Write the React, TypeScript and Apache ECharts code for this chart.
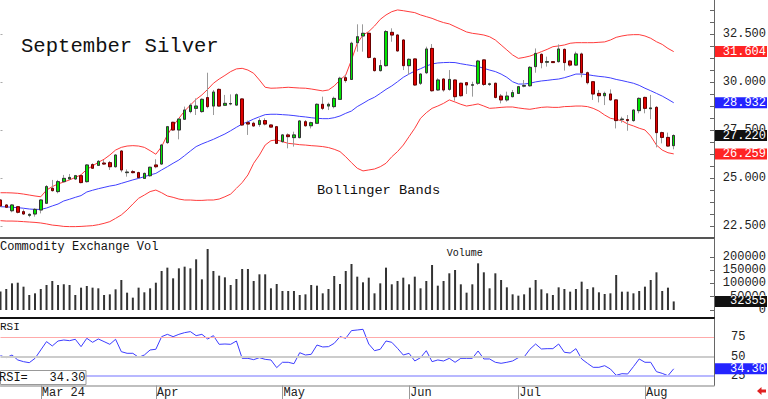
import React, { useEffect, useRef } from 'react';
import * as echarts from 'echarts';

const MONO = '"Liberation Mono", "DejaVu Sans Mono", monospace';

// x categories: trading days (Feb 21 2024 .. Aug 8 2024) plus empty slots on the right
const monthLabels = ['Mar 24', 'Apr', 'May', 'Jun', 'Jul', 'Aug'];
const monthStartIndex = [7, 27, 49, 71, 90, 112];
const emptySlotsAfter = 7;

const opens = [
  23.85, 23.59, 23.29, 23.50, 23.24, 23.05, 23.12, 23.33, 23.68, 24.46,
  24.29, 24.81, 24.95, 24.95, 25.12, 24.81, 25.70, 25.66, 25.78, 25.80,
  25.59, 26.41, 25.28, 25.33, 25.28, 24.98, 25.12, 25.68, 25.73, 26.85,
  27.91, 27.51, 28.07, 28.47, 28.64, 28.47, 29.20, 28.76, 29.63, 28.80,
  28.87, 28.81, 29.13, 27.89, 27.86, 27.80, 28.00, 27.77, 27.68, 26.90,
  27.25, 27.11, 27.11, 27.94, 27.73, 27.86, 28.85, 28.76, 28.73, 29.11,
  30.24, 30.15, 32.07, 32.42, 32.56, 31.25, 30.61, 30.87, 32.61, 32.47,
  32.21, 30.87, 31.22, 29.95, 30.50, 31.77, 29.60, 30.17, 29.63, 30.12,
  29.95, 29.98, 29.85, 29.95, 31.17, 29.89, 29.95, 29.28, 29.08, 29.25,
  29.42, 29.80, 29.82, 30.82, 31.46, 31.05, 31.08, 31.08, 31.72, 31.11,
  30.90, 31.48, 30.50, 30.03, 29.42, 29.30, 29.39, 29.08, 28.05, 28.05,
  28.00, 28.52, 29.21, 28.62, 28.69, 27.37, 27.12, 26.69,
];
const closes = [
  23.54, 23.47, 23.59, 23.21, 23.12, 23.10, 23.36, 23.85, 24.55, 24.34,
  24.81, 24.98, 25.03, 25.12, 24.76, 25.68, 25.51, 25.87, 25.73, 25.59,
  26.20, 25.42, 25.31, 25.28, 25.02, 25.24, 25.56, 25.59, 26.72, 27.68,
  27.51, 28.08, 28.55, 28.80, 28.76, 29.11, 28.73, 29.49, 28.76, 28.90,
  28.89, 29.35, 27.77, 27.82, 27.72, 28.00, 27.82, 27.66, 26.81, 27.25,
  27.16, 27.25, 27.98, 27.73, 27.89, 28.85, 28.64, 28.85, 29.16, 30.21,
  30.09, 32.04, 32.38, 32.56, 31.30, 30.61, 30.87, 32.65, 32.47, 31.64,
  30.87, 31.20, 29.86, 30.43, 31.74, 29.56, 30.12, 29.60, 30.15, 29.25,
  29.30, 29.86, 29.87, 31.11, 29.89, 29.92, 29.21, 29.08, 29.28, 29.46,
  29.77, 29.83, 30.78, 31.51, 31.03, 31.08, 31.03, 31.74, 31.03, 30.90,
  31.48, 30.50, 29.98, 29.39, 29.30, 29.42, 29.08, 28.00, 28.08, 28.00,
  28.55, 29.16, 28.64, 28.66, 27.37, 27.12, 26.67, 27.22,
];
const lows = [
  23.50, 23.43, 23.21, 23.15, 23.07, 22.95, 22.98, 23.15, 23.64, 24.29,
  24.20, 24.76, 24.90, 24.90, 24.72, 24.76, 25.47, 25.63, 25.68, 25.42,
  25.54, 25.30, 25.07, 25.24, 24.98, 24.95, 25.07, 25.51, 25.68, 26.78,
  27.47, 27.02, 28.03, 28.38, 28.29, 28.41, 28.64, 28.29, 28.73, 28.76,
  28.80, 28.76, 27.72, 27.25, 27.68, 27.68, 27.75, 27.63, 26.78, 26.85,
  26.55, 26.64, 27.07, 27.68, 27.59, 27.82, 28.55, 28.55, 28.64, 29.08,
  29.98, 30.12, 31.60, 31.60, 31.25, 30.56, 30.56, 30.82, 32.12, 31.60,
  30.64, 30.38, 29.81, 29.86, 30.43, 29.51, 29.56, 29.51, 29.56, 29.04,
  29.25, 29.39, 29.25, 29.86, 29.81, 29.81, 29.16, 28.90, 28.99, 29.21,
  29.39, 29.74, 29.77, 30.50, 30.73, 30.82, 31.01, 31.03, 30.61, 30.82,
  30.87, 30.26, 29.89, 29.08, 28.95, 28.81, 29.04, 27.59, 27.89, 27.47,
  27.94, 28.38, 28.38, 28.07, 26.60, 26.81, 26.64, 26.50,
];
const highs = [
  23.89, 23.64, 23.64, 23.54, 23.36, 23.15, 23.42, 23.89, 24.63, 24.90,
  24.90, 25.16, 25.21, 25.16, 25.16, 25.73, 25.77, 25.94, 25.94, 25.89,
  26.24, 26.46, 25.45, 25.42, 25.33, 25.28, 25.59, 25.98, 26.78, 27.72,
  27.94, 28.12, 28.73, 28.90, 29.16, 29.16, 30.50, 29.60, 29.68, 29.34,
  29.37, 29.42, 29.16, 28.00, 27.94, 28.12, 28.12, 27.80, 27.72, 27.30,
  27.33, 27.42, 28.03, 28.03, 27.94, 28.90, 29.25, 28.94, 29.25, 30.29,
  30.38, 32.12, 33.03, 33.03, 32.59, 31.30, 31.17, 32.73, 32.82, 32.52,
  32.26, 31.25, 31.25, 30.47, 31.86, 32.00, 30.21, 30.21, 30.64, 30.15,
  29.98, 29.98, 30.03, 31.17, 31.20, 29.98, 29.98, 29.39, 29.51, 29.60,
  29.81, 30.12, 30.85, 31.77, 31.51, 31.34, 31.10, 31.98, 31.77, 31.17,
  31.60, 31.55, 30.56, 30.07, 29.60, 29.51, 29.63, 29.11, 28.20, 28.29,
  28.59, 29.21, 29.25, 29.34, 28.76, 27.42, 27.37, 27.28,
];

const upperBand = [
  24.23, 24.23, 24.22, 24.20, 24.16, 24.11, 24.06, 24.02, 24.37, 24.55,
  24.69, 24.79, 24.90, 25.03, 25.17, 25.45, 25.63, 25.82, 25.98, 26.20,
  26.46, 26.60, 26.67, 26.69, 26.67, 26.60, 26.43, 26.24, 26.64, 27.25,
  27.72, 28.12, 28.50, 28.81, 29.11, 29.34, 29.63, 29.95, 30.17, 30.36,
  30.56, 30.70, 30.73, 30.64, 30.47, 30.12, 29.74, 29.69, 29.70, 29.72,
  29.74, 29.72, 29.70, 29.69, 29.65, 29.60, 29.55, 29.60, 29.81, 30.12,
  30.38, 31.17, 32.04, 32.47, 32.65, 32.94, 33.29, 33.52, 33.69, 33.78,
  33.74, 33.69, 33.64, 33.52, 33.43, 33.34, 33.22, 33.12, 33.05, 32.91,
  32.77, 32.63, 32.56, 32.52, 32.47, 32.38, 32.21, 31.95, 31.69, 31.43,
  31.25, 31.30, 31.37, 31.48, 31.60, 31.72, 31.86, 31.90, 31.95, 32.04,
  32.07, 32.07, 32.07, 32.07, 32.09, 32.11, 32.21, 32.35, 32.42, 32.47,
  32.49, 32.49, 32.42, 32.30, 32.12, 31.98, 31.77, 31.604,
];
const middleBand = [
  23.50, 23.49, 23.47, 23.45, 23.42, 23.38, 23.36, 23.36, 23.43, 23.54,
  23.64, 23.80, 23.89, 23.99, 24.08, 24.27, 24.36, 24.44, 24.51, 24.58,
  24.63, 24.72, 24.81, 24.90, 24.98, 25.07, 25.16, 25.24, 25.42, 25.59,
  25.77, 25.94, 26.17, 26.41, 26.64, 26.78, 26.90, 27.02, 27.16, 27.30,
  27.47, 27.65, 27.82, 27.94, 28.08, 28.20, 28.31, 28.33, 28.33, 28.31,
  28.29, 28.26, 28.22, 28.19, 28.15, 28.12, 28.10, 28.10, 28.15, 28.24,
  28.38, 28.50, 28.73, 28.90, 29.08, 29.22, 29.42, 29.63, 29.81, 30.03,
  30.26, 30.43, 30.59, 30.71, 30.85, 30.96, 31.01, 31.03, 31.04, 31.03,
  30.97, 30.92, 30.87, 30.82, 30.73, 30.64, 30.56, 30.43, 30.26, 30.03,
  29.91, 29.91, 29.95, 30.02, 30.07, 30.10, 30.14, 30.17, 30.24, 30.33,
  30.43, 30.43, 30.40, 30.35, 30.31, 30.28, 30.23, 30.15, 30.09, 30.02,
  29.95, 29.84, 29.69, 29.56, 29.42, 29.28, 29.11, 28.932,
];
const lowerBand = [
  22.77, 22.75, 22.75, 22.74, 22.72, 22.70, 22.68, 22.65, 22.60, 22.54,
  22.51, 22.47, 22.46, 22.46, 22.47, 22.49, 22.51, 22.56, 22.63, 22.72,
  22.89, 23.07, 23.33, 23.64, 23.94, 24.11, 24.29, 24.37, 24.23, 24.06,
  23.99, 23.90, 23.85, 23.85, 23.83, 23.83, 23.85, 23.85, 23.90, 24.02,
  24.16, 24.46, 24.76, 25.16, 25.77, 26.20, 26.72, 26.95, 26.99, 26.90,
  26.81, 26.78, 26.74, 26.72, 26.69, 26.67, 26.64, 26.59, 26.50, 26.38,
  26.11, 25.80, 25.51, 25.37, 25.42, 25.47, 25.59, 25.77, 26.11, 26.38,
  26.72, 27.16, 27.60, 28.12, 28.41, 28.64, 28.76, 28.90, 29.08, 28.97,
  28.85, 28.76, 28.81, 28.87, 28.76, 28.64, 28.66, 28.69, 28.71, 28.71,
  28.66, 28.62, 28.59, 28.64, 28.69, 28.71, 28.69, 28.69, 28.73, 28.74,
  28.76, 28.76, 28.73, 28.64, 28.50, 28.29, 28.12, 28.06, 27.99, 27.82,
  27.72, 27.60, 27.51, 27.19, 26.72, 26.46, 26.32, 26.259,
];

const volumes = [
  70000, 79300, 100600, 103000, 88000, 56600, 62900, 79300, 94400, 109400,
  94400, 96900, 94400, 56600, 84300, 90600, 84300, 81800, 56600, 59100,
  78000, 113200, 65400, 46600, 84300, 66700, 81800, 103000, 147200, 159800,
  119500, 157200, 163500, 157200, 191200, 115700, 230200, 147200, 129600, 123300,
  94400, 117000, 154700, 154700, 109400, 134600, 134600, 81800, 98100, 71700,
  71700, 71700, 56600, 59100, 94400, 91900, 62900, 79300, 128300, 98100,
  147200, 173600, 125800, 104400, 122000, 62900, 100600, 159800, 96900, 109400,
  122000, 96900, 125800, 81800, 109400, 169800, 91800, 109400, 138400, 151000,
  96900, 65400, 96900, 176100, 142200, 81800, 138400, 113200, 85500, 59100,
  54100, 59100, 84300, 113200, 78000, 62900, 56600, 85500, 79300, 69200,
  79300, 106900, 79300, 85500, 66700, 60400, 62900, 132100, 69200, 69200,
  62900, 71700, 88100, 113200, 142200, 71700, 84300, 32355,
];

const rsiValues = [
  51.3, 48.7, 52.1, 45.7, 43.5, 42.2, 47.8, 58.6, 69.4, 63.8,
  70.2, 71.5, 70.6, 72.4, 62.9, 73.7, 68.5, 72.8, 69.4, 65.9,
  72.4, 56.4, 54.3, 54.3, 49.1, 52.1, 58.6, 59.5, 75.8, 78.8,
  75.8, 78.8, 81.0, 82.3, 77.1, 78.8, 72.8, 77.1, 65.9, 66.3,
  65.9, 70.2, 47.8, 47.8, 46.1, 48.7, 46.5, 45.7, 35.8, 42.7,
  42.7, 40.9, 55.1, 52.1, 53.0, 65.0, 62.5, 62.9, 67.2, 75.8,
  73.7, 83.6, 84.4, 85.3, 66.3, 57.7, 59.5, 70.2, 68.5, 60.7,
  52.1, 54.3, 44.4, 48.7, 57.7, 43.5, 45.7, 44.4, 47.8, 42.7,
  47.8, 47.8, 47.8, 57.3, 47.0, 47.0, 42.7, 41.4, 42.7, 44.4,
  48.7, 49.5, 59.5, 66.3, 59.9, 60.3, 60.3, 66.3, 55.6, 54.7,
  60.3, 47.0, 41.4, 36.2, 36.2, 38.3, 34.0, 25.9, 28.0, 27.6,
  37.1, 47.0, 42.7, 42.7, 30.6, 28.4, 25.4, 34.30,
];

const priceTicks = [22.5, 25, 27.5, 30, 32.5];
const priceMinorTicks = [
  22.5, 23.125, 23.75, 24.375, 25, 25.625, 26.25, 26.875, 27.5, 28.125,
  28.75, 29.375, 30, 30.625, 31.25, 31.875, 32.5, 33.125, 33.75,
];
const volumeTicks = [0, 50000, 100000, 150000, 200000];
const rsiTicks = [25, 50, 75];
const rsiLevels = [75, 50, 25];

export default function App() {
  const ref = useRef<HTMLDivElement>(null);

  useEffect(() => {
    document.body.style.margin = '0';
    const el = ref.current as HTMLDivElement;
    const chart = echarts.init(el, null, { renderer: 'svg' });
    const n = opens.length;
    const categories = Array.from({ length: n + emptySlotsAfter }, (_, i) => 'd' + i);
    const isMonthStart = (i: number) => monthStartIndex.indexOf(i) >= 0;

    const wickData = opens.map((o, i) => [o, closes[i], lows[i], highs[i]]);
    const bodyData = opens.map((o, i) => [
      o, closes[i], Math.min(o, closes[i]), Math.max(o, closes[i]),
    ]);

    const hiddenX = (gridIndex: number, color: string, width: number) => ({
      gridIndex,
      type: 'category',
      data: categories,
      boundaryGap: false,
      axisLine: { show: true, onZero: false, lineStyle: { color, width } },
      axisTick: { show: false },
      axisLabel: { show: false },
      splitLine: { show: false },
    });

    const rightAxisBase = {
      type: 'value',
      position: 'right',
      splitLine: { show: false },
      axisLine: { show: true, lineStyle: { color: '#666', width: 1 } },
    };

    chart.setOption({
      animation: false,
      grid: [
        { left: 0.5, top: 0, width: 713.5, height: 238, outerBoundsMode: 'none' },
        { left: 0.5, top: 239, width: 713.5, height: 79, outerBoundsMode: 'none' },
        { left: 0.5, top: 319, width: 713.5, height: 66.5, outerBoundsMode: 'none' },
      ],
      xAxis: [
        hiddenX(0, '#555', 2),
        hiddenX(1, '#111', 2),
        {
          gridIndex: 2,
          type: 'category',
          data: categories,
          boundaryGap: false,
          axisLine: { show: true, onZero: false, lineStyle: { color: '#aaa', width: 1.5 } },
          axisTick: {
            show: true,
            interval: (i: number) => isMonthStart(i),
            length: 14,
            lineStyle: { color: '#999' },
          },
          axisLabel: {
            show: true,
            interval: (i: number) => isMonthStart(i),
            formatter: (_v: string, i: number) => monthLabels[monthStartIndex.indexOf(i)] || '',
            align: 'left',
            margin: 1,
            padding: [0, 0, 0, 1],
            fontFamily: MONO,
            fontSize: 12,
            color: '#222',
          },
          splitLine: { show: false },
        },
      ],
      yAxis: [
        {
          ...rightAxisBase,
          gridIndex: 0,
          min: 21.865,
          max: 34.3,
          axisTick: {
            show: true, inside: true, length: 4,
            customValues: priceMinorTicks, lineStyle: { color: '#666' },
          },
          axisLabel: {
            customValues: priceTicks,
            formatter: (v: number) => v.toFixed(3),
            align: 'right', margin: 52,
            fontFamily: MONO, fontSize: 12, color: '#222',
          },
        },
        {
          type: 'value',
          gridIndex: 0,
          position: 'left',
          min: 21.865,
          max: 34.3,
          splitLine: { show: false },
          axisLine: { show: false },
          axisTick: {
            show: true, inside: true, length: 2,
            customValues: priceTicks, lineStyle: { color: '#aaa' },
          },
          axisLabel: { show: false },
        },
        {
          ...rightAxisBase,
          gridIndex: 1,
          min: -30190,
          max: 267900,
          axisTick: {
            show: true, inside: true, length: 4,
            customValues: volumeTicks, lineStyle: { color: '#666' },
          },
          axisLabel: {
            customValues: volumeTicks,
            formatter: (v: number) => String(v),
            align: 'right', margin: 52,
            fontFamily: MONO, fontSize: 12, color: '#222',
          },
        },
        {
          ...rightAxisBase,
          gridIndex: 2,
          min: 12.73,
          max: 98.6,
          axisTick: {
            show: true, inside: true, length: 4,
            customValues: rsiTicks, lineStyle: { color: '#666' },
          },
          axisLabel: {
            customValues: rsiTicks,
            align: 'left', margin: 17,
            fontFamily: MONO, fontSize: 12, color: '#222',
          },
        },
      ],
      series: [
        {
          type: 'line', xAxisIndex: 0, yAxisIndex: 0, data: upperBand,
          symbol: 'none', silent: true, z: 1,
          lineStyle: { color: '#ff3c3c', width: 1 },
        },
        {
          type: 'line', xAxisIndex: 0, yAxisIndex: 0, data: middleBand,
          symbol: 'none', silent: true, z: 1,
          lineStyle: { color: '#4040ff', width: 1 },
        },
        {
          type: 'line', xAxisIndex: 0, yAxisIndex: 0, data: lowerBand,
          symbol: 'none', silent: true, z: 1,
          lineStyle: { color: '#ff3c3c', width: 1 },
        },
        {
          type: 'candlestick', xAxisIndex: 0, yAxisIndex: 0, data: wickData,
          barWidth: 3, silent: true, z: 2,
          itemStyle: {
            color: '#9a9a9a', color0: '#9a9a9a',
            borderColor: '#9a9a9a', borderColor0: '#9a9a9a', borderWidth: 1,
          },
        },
        {
          type: 'candlestick', xAxisIndex: 0, yAxisIndex: 0, data: bodyData,
          barWidth: 3, silent: true, z: 3,
          itemStyle: {
            color: '#00e600', color0: '#e00000',
            borderColor: '#333', borderColor0: '#6a0000', borderWidth: 1,
          },
        },
        {
          type: 'bar', xAxisIndex: 1, yAxisIndex: 2, data: volumes,
          barWidth: 2, silent: true,
          itemStyle: { color: '#333' },
        },
        {
          type: 'line', xAxisIndex: 2, yAxisIndex: 3, data: rsiValues,
          symbol: 'none', silent: true, z: 3,
          lineStyle: { color: '#3c3cff', width: 1 },
          markLine: {
            silent: true,
            symbol: 'none',
            label: { show: false },
            data: [
              { yAxis: rsiLevels[0], lineStyle: { color: '#ffaaaa', width: 1, type: 'solid' } },
              { yAxis: rsiLevels[1], lineStyle: { color: '#cccccc', width: 2, type: 'solid' } },
              { yAxis: rsiLevels[2], lineStyle: { color: '#b8b8ff', width: 2, type: 'solid' } },
            ],
          },
        },
      ],
    });

    const font = (size: number) => `${size}px ${MONO}`;
    const badge = (axis: number, value: number, text: string, color: string) => {
      const y = chart.convertToPixel({ yAxisIndex: axis }, value) as number;
      return [
        {
          type: 'rect', z: 100,
          shape: { x: 715, y: y - 5.5, width: 52, height: 11 },
          style: { fill: color },
        },
        {
          type: 'text', z: 101,
          style: {
            text, x: 766, y, align: 'right', verticalAlign: 'middle',
            fill: '#fff', font: font(12),
          },
        },
      ];
    };

    const lastUpper = upperBand[n - 1];
    const lastMid = middleBand[n - 1];
    const lastLow = lowerBand[n - 1];
    const lastClose = closes[n - 1];
    const lastVol = volumes[n - 1];
    const lastRsi = rsiValues[n - 1];

    chart.setOption({
      graphic: [
        {
          type: 'text', z: 50,
          style: { text: 'September Silver', x: 21, y: 46, verticalAlign: 'middle', fill: '#111', font: font(20.6) },
        },
        {
          type: 'text', z: 50,
          style: { text: 'Bollinger Bands', x: 378.5, y: 190, align: 'center', verticalAlign: 'middle', fill: '#111', font: font(13.7) },
        },
        {
          type: 'text', z: 50,
          style: { text: 'Commodity Exchange Vol', x: 0, y: 246.5, verticalAlign: 'middle', fill: '#111', font: font(12) },
        },
        {
          type: 'text', z: 50,
          style: { text: 'Volume', x: 464.7, y: 253, align: 'center', verticalAlign: 'middle', fill: '#111', font: font(10) },
        },
        {
          type: 'text', z: 50,
          style: { text: 'RSI', x: 0, y: 327, verticalAlign: 'middle', fill: '#111', font: font(11) },
        },
        {
          type: 'rect', z: 60,
          shape: { x: 0.5, y: 370.5, width: 85.5, height: 14 },
          style: { fill: '#fff', stroke: '#999', lineWidth: 1 },
        },
        {
          type: 'text', z: 61,
          style: { text: 'RSI=', x: -1, y: 378, verticalAlign: 'middle', fill: '#111', font: font(12) },
        },
        {
          type: 'text', z: 61,
          style: { text: lastRsi.toFixed(2), x: 85.5, y: 378, align: 'right', verticalAlign: 'middle', fill: '#111', font: font(12) },
        },
        ...badge(0, lastUpper, lastUpper.toFixed(3), '#ff2424'),
        ...badge(0, lastMid, lastMid.toFixed(3), '#2424ff'),
        ...badge(0, lastClose, lastClose.toFixed(3), '#111'),
        ...badge(0, lastLow, lastLow.toFixed(3), '#ff2424'),
        ...badge(2, lastVol, String(lastVol), '#111'),
        ...badge(3, lastRsi, lastRsi.toFixed(2), '#2424ff'),
        {
          type: 'polygon', z: 50,
          shape: {
            points: [
              [757, 391], [761.5, 387], [761.5, 389.5], [766, 389.5],
              [766, 392.5], [761.5, 392.5], [761.5, 395],
            ],
          },
          style: { fill: '#e02020' },
        },
      ],
    });

    return () => {
      chart.dispose();
    };
  }, []);

  return (
    <div
      ref={ref}
      style={{ position: 'absolute', left: 0, top: 0, width: 768, height: 399, background: '#fff' }}
    />
  );
}
